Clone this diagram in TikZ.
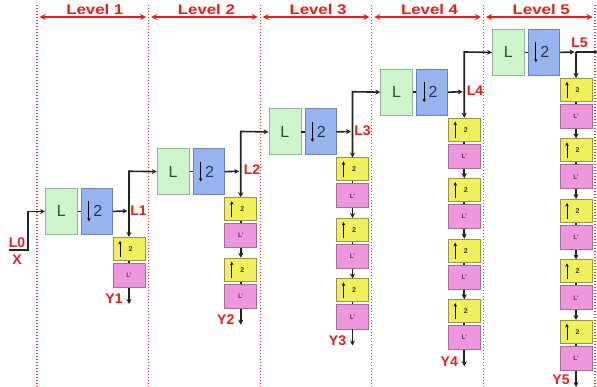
\documentclass[tikz,border=0pt]{standalone}
\usepackage{fontspec}
\setmainfont{Liberation Sans}
\usetikzlibrary{arrows.meta}
\definecolor{lvlred}{RGB}{232,30,30}
\definecolor{dotred}{RGB}{235,60,60}
\definecolor{gfill}{RGB}{204,245,204}
\definecolor{gdraw}{RGB}{150,175,150}
\definecolor{bfill}{RGB}{150,180,240}
\definecolor{bdraw}{RGB}{110,130,175}
\definecolor{yfill}{RGB}{240,240,90}
\definecolor{ydraw}{RGB}{150,150,70}
\definecolor{pfill}{RGB}{240,150,222}
\definecolor{pdraw}{RGB}{160,110,150}
\definecolor{conncol}{RGB}{35,35,35}
\definecolor{ltext}{RGB}{45,75,45}
\definecolor{btext}{RGB}{40,50,80}
\tikzset{
  gbox/.style={draw=gdraw, fill=gfill, line width=0.8pt, minimum width=32pt, minimum height=46pt, inner sep=0pt,
    font=\fontsize{16}{16}\selectfont, text=ltext},
  bbox/.style={draw=bdraw, fill=bfill, line width=0.8pt, minimum width=31pt, minimum height=46pt, inner sep=0pt,
    font=\fontsize{16}{16}\selectfont, text=btext},
  ybox/.style={draw=ydraw, fill=yfill, line width=0.8pt, minimum width=32pt, minimum height=23pt, inner sep=0pt,
    font=\fontsize{7}{7}\selectfont\bfseries, text=black!80},
  pbox/.style={draw=pdraw, fill=pfill, line width=0.8pt, minimum width=32pt, minimum height=24pt, inner sep=0pt,
    font=\fontsize{6.5}{6.5}\selectfont\bfseries, text=black!75},
  conn/.style={draw=conncol, line width=1.6pt},
  tip/.style={-{Stealth[length=5pt,width=5pt]}},
  bothtip/.style={{Stealth[length=5pt,width=5pt]}-{Stealth[length=5pt,width=5pt]}},
  inarr/.style={draw=black, line width=0.9pt, -{Stealth[length=3.5pt,width=3.5pt]}},
  redlab/.style={text=lvlred, font=\fontsize{14}{14}\selectfont\bfseries, inner sep=0pt},
  dotline/.style={draw=dotred, line width=1.3pt, dash pattern=on 1.3pt off 1.7pt},
  lvlarrow/.style={draw=lvlred, line width=1.6pt, {Stealth[length=6pt,width=6pt]}-{Stealth[length=6pt,width=6pt]}},
}
\begin{document}
\begin{tikzpicture}[x=1pt,y=-1pt]
\useasboundingbox (0,0) rectangle (597,387);
\fill[white] (0,0) rectangle (597,387);

% dotted level separators and level arrows
\foreach \i in {0,...,5}{
  \pgfmathsetmacro\xd{37+111.6*\i}
  \coordinate (dt\i) at (\xd,5);
  \coordinate (db\i) at (\xd,387);
  \draw[dotline] (dt\i) -- (db\i);
}
\foreach \i in {1,...,5}{
  \pgfmathsetmacro\xa{37+111.6*(\i-1)+2.5}
  \pgfmathsetmacro\xb{37+111.6*\i-2.5}
  \coordinate (la\i) at (\xa,17);
  \coordinate (lb\i) at (\xb,17);
  \draw[lvlarrow] (la\i) -- (lb\i);
  \node[redlab] (lv\i) at ({37+111.6*(\i-0.5)+2},9.5) {\scalebox{1.2}[1]{Level \i}};
}

% blocks
\foreach \k in {1,...,5}{
  \pgfmathsetmacro\xo{45+111.75*(\k-1)}
  \pgfmathsetmacro\yo{188-39.75*(\k-1)}
  \node[gbox, anchor=north west] (G\k) at (\xo,\yo) {L};
  \node[bbox, anchor=north west] (D\k) at (\xo+36,\yo) {\hspace{2pt}2};
  \draw[inarr] ([xshift=-8pt,yshift=10pt]D\k.center) -- ([xshift=-8pt,yshift=-10pt]D\k.center);
  \coordinate (T\k) at (\xo+82.5,\yo+23);
  \foreach \j in {1,...,\k}{
    \pgfmathsetmacro\yy{\yo+49+60.5*(\j-1)}
    \node[ybox, anchor=north] (yel\k\j) at (\xo+84,\yy) {\hspace{3pt}2};
    \node[pbox, anchor=north] (pnk\k\j) at (\xo+84,\yy+26) {L'};
    \draw[inarr] ([xshift=-9pt,yshift=-8pt]yel\k\j.center) -- ([xshift=-9pt,yshift=8pt]yel\k\j.center);
  }
  \pgfmathsetmacro\yb{\yo+49+60.5*(\k-1)+50}
  \coordinate (O\k) at (\xo+84,\yb+17);
  \pgfmathsetmacro\yl{min(\yb+12,380)}
  \node[redlab] (Ylab\k) at (\xo+69,\yl) {Y\k};
}
\node[redlab] (L1lab) at (138.5,211) {L1};
\node[redlab] (L2lab) at (252,170) {L2};
\node[redlab] (L3lab) at (362.5,131) {L3};
\node[redlab] (L4lab) at (475,91) {L4};
\node[redlab] (L5lab) at (579.5,43) {L5};

% input
\node[redlab] (L0lab) at (17,243) {L0};
\node[redlab] (Xlab) at (17,260) {X};
\coordinate (in0) at (9,250);
\coordinate (in1) at (28,250);
\draw[conn, tip] (in0) -- (in1) |- (G1.west);

% connectors
\foreach \k in {1,...,5}{
  \pgfmathsetmacro\xo{45+111.75*(\k-1)}
  \pgfmathsetmacro\yo{188-39.75*(\k-1)}
  \draw[conn] (G\k.east) -- (D\k.west);
  \draw[conn, tip] (D\k.east) -- (T\k);
  \foreach \j in {1,...,\k}{
    \draw[conn] (yel\k\j.south) -- (pnk\k\j.north);
  }
  \draw[conn, tip] (pnk\k\k.south) -- (O\k);
}
\foreach \k in {1,...,4}{
  \pgfmathsetmacro\xo{45+111.75*(\k-1)}
  \pgfmathsetmacro\yo{188-39.75*(\k-1)}
  \pgfmathtruncatemacro\kk{\k+1}
  \coordinate (U\k) at (\xo+84,\yo-16.75);
  \draw[conn, bothtip] (yel\k1.north) -- (U\k) -- (G\kk.west);
}
\coordinate (U5) at (576,52);
\coordinate (E5) at (597,52);
\draw[conn, tip] (U5) -- (yel51.north);
\draw[conn] (U5) -- (E5);
% chain arrows between pairs
\foreach \k/\j/\jj in {2/1/2, 3/1/2, 3/2/3, 4/1/2, 4/2/3, 4/3/4, 5/1/2, 5/2/3, 5/3/4, 5/4/5}{
  \draw[conn, tip] (pnk\k\j.south) -- (yel\k\jj.north);
}
\end{tikzpicture}
\end{document}
